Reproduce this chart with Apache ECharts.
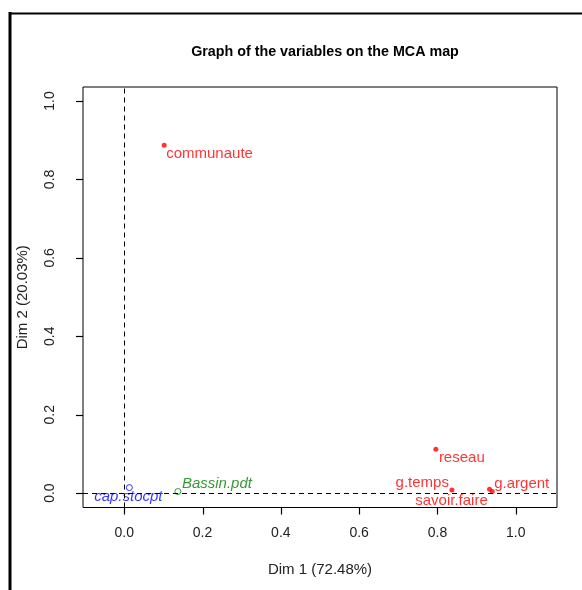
<!DOCTYPE html>
<html>
<head>
<meta charset="utf-8">
<script src="https://cdn.jsdelivr.net/npm/echarts@6/dist/echarts.min.js"></script>
<style>
  html, body { margin: 0; padding: 0; background: #fff; }
  #chart { width: 582px; height: 590px; }
</style>
</head>
<body>
<div id="chart"></div>
<script>
// MCA variable map: coordinates of each variable on Dim 1 / Dim 2
const activeNames = ['communaute', 'reseau', 'g.temps', 'savoir.faire', 'g.argent'];
const activeDim1 = [0.102, 0.796, 0.837, 0.933, 0.940];
const activeDim2 = [0.887, 0.112, 0.008, 0.010, 0.004];

const suppQualiNames = ['Bassin.pdt'];
const suppQualiDim1 = [0.137];
const suppQualiDim2 = [0.004];

const suppQuantiNames = ['cap.stocpt'];
const suppQuantiDim1 = [0.013];
const suppQuantiDim2 = [0.014];

const tickValues = [0, 0.2, 0.4, 0.6, 0.8, 1.0];

// plotting ranges of both dimensions
const X_MIN = -0.1054, X_MAX = 1.1054;
const Y_MIN = -0.0367, Y_MAX = 1.0357;

// where each name sits relative to its point (pixels)
const labelPlacement = {
  'communaute':   { align: 'left',   offset: [2, 9] },
  'reseau':       { align: 'left',   offset: [3, 9] },
  'g.temps':      { align: 'right',  offset: [-3, -7] },
  'savoir.faire': { align: 'center', offset: [-38, 12] },
  'g.argent':     { align: 'left',   offset: [2, -8] },
  'Bassin.pdt':   { align: 'left',   offset: [4, -8] },
  'cap.stocpt':   { align: 'center', offset: [-1, 9] }
};

const FONT = '"Liberation Sans", Arial, sans-serif';
const TICK_LEN = 7;

function buildPoints(names, xs, ys, color, italic) {
  return names.map((n, i) => {
    const p = labelPlacement[n];
    return {
      name: n,
      value: [xs[i], ys[i]],
      label: {
        show: true,
        formatter: n,
        position: 'inside',
        align: p.align,
        verticalAlign: 'middle',
        offset: p.offset,
        color: color,
        fontSize: 15,
        fontStyle: italic ? 'italic' : 'normal',
        fontFamily: FONT
      }
    };
  });
}

function makeAxis(min, max, name, nameGap, labelMargin, rotate) {
  return {
    type: 'value',
    min: min,
    max: max,
    name: name,
    nameLocation: 'middle',
    nameGap: nameGap,
    nameTextStyle: { fontFamily: FONT, fontSize: 15, color: '#222' },
    axisLine: { show: false, onZero: false },
    splitLine: { show: false },
    axisTick: { show: false },
    axisLabel: {
      customValues: tickValues.slice(),
      margin: labelMargin,
      rotate: rotate,
      formatter: v => v.toFixed(1),
      fontFamily: FONT,
      fontSize: 14,
      color: '#222'
    }
  };
}

const chart = echarts.init(document.getElementById('chart'), null, { renderer: 'canvas' });

chart.setOption({
  animation: false,
  title: {
    text: 'Graph of the variables on the MCA map',
    left: 320,
    top: 40,
    textAlign: 'center',
    textStyle: { fontFamily: FONT, fontSize: 14.3, fontWeight: 'bold', color: '#000' }
  },
  grid: {
    left: 83, right: 25, top: 87, bottom: 82.5,
    show: true, borderColor: '#000', borderWidth: 1
  },
  xAxis: makeAxis(X_MIN, X_MAX, 'Dim 1 (72.48%)', 55, 19, 0),
  yAxis: makeAxis(Y_MIN, Y_MAX, 'Dim 2 (20.03%)', 53, 26, 90),
  series: [
    {
      type: 'scatter',
      name: 'active',
      symbol: 'circle',
      symbolSize: 5,
      itemStyle: { color: '#ff0000' },
      data: buildPoints(activeNames, activeDim1, activeDim2, '#ff0000', false),
      markLine: {
        silent: true,
        symbol: ['none', 'none'],
        label: { show: false },
        lineStyle: { color: '#000', type: [5, 4], width: 1 },
        data: [{ xAxis: 0 }, { yAxis: 0 }]
      },
      z: 3
    },
    {
      type: 'scatter',
      name: 'supp.quali',
      symbol: 'circle',
      symbolSize: 6,
      itemStyle: { color: 'rgba(255,255,255,0)', borderColor: '#008000', borderWidth: 1 },
      data: buildPoints(suppQualiNames, suppQualiDim1, suppQualiDim2, '#008000', true),
      z: 3
    },
    {
      type: 'scatter',
      name: 'supp.quanti',
      symbol: 'circle',
      symbolSize: 6,
      itemStyle: { color: 'rgba(255,255,255,0)', borderColor: '#0000ff', borderWidth: 1 },
      data: buildPoints(suppQuantiNames, suppQuantiDim1, suppQuantiDim2, '#0000ff', true),
      z: 3
    }
  ]
});

// figure frame plus outward tick marks, placed through the grid's scales
const decorations = [
  { type: 'line', shape: { x1: 10, y1: 12, x2: 10, y2: 590 }, style: { stroke: '#000', lineWidth: 3 } },
  { type: 'line', shape: { x1: 9, y1: 13.5, x2: 582, y2: 13.5 }, style: { stroke: '#000', lineWidth: 2 } }
];
tickValues.forEach(v => {
  const bx = chart.convertToPixel({ gridIndex: 0 }, [v, Y_MIN]);
  if (bx && isFinite(bx[0]) && isFinite(bx[1])) {
    const x = Math.round(bx[0]) + 0.5;
    decorations.push({
      type: 'line',
      shape: { x1: x, y1: bx[1], x2: x, y2: bx[1] + TICK_LEN },
      style: { stroke: '#000', lineWidth: 1.2 }
    });
  }
  const ly = chart.convertToPixel({ gridIndex: 0 }, [X_MIN, v]);
  if (ly && isFinite(ly[0]) && isFinite(ly[1])) {
    const y = Math.round(ly[1]) + 0.5;
    decorations.push({
      type: 'line',
      shape: { x1: ly[0] - TICK_LEN, y1: y, x2: ly[0], y2: y },
      style: { stroke: '#000', lineWidth: 1.2 }
    });
  }
});
chart.setOption({ graphic: decorations });
</script>
</body>
</html>
